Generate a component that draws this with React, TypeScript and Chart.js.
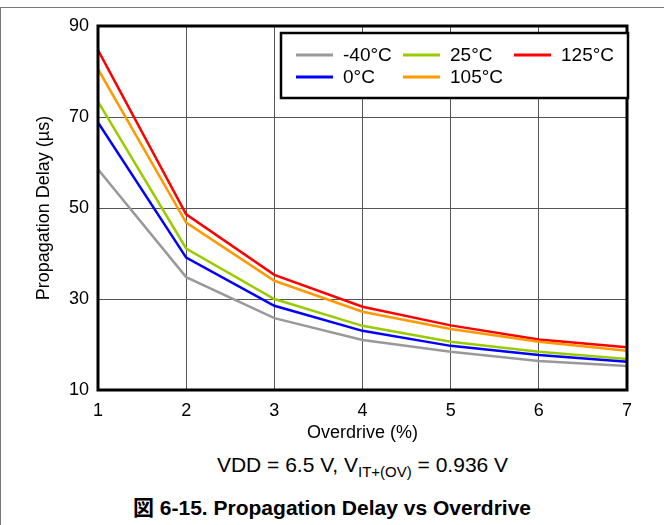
import React, { useEffect, useRef } from 'react';
import { Chart, registerables } from 'chart.js';

Chart.register(...registerables);

const overdrive = [1, 2, 3, 4, 5, 6, 7];
const seriesLabels = ['-40°C', '0°C', '25°C', '105°C', '125°C'];
const delayM40 = [58.5, 34.8, 25.8, 21.0, 18.4, 16.4, 15.3];
const delay0 = [68.8, 39.1, 28.5, 23.0, 19.7, 17.7, 16.2];
const delay25 = [73.4, 41.1, 30.0, 24.1, 20.6, 18.4, 16.8];
const delay105 = [80.5, 46.8, 34.0, 27.2, 23.4, 20.6, 18.6];
const delay125 = [84.7, 48.6, 35.3, 28.3, 24.2, 21.1, 19.4];
const seriesColors = ['#999999', '#0000ff', '#99cc00', '#ff9900', '#ff0000'];
const yTicks = [10, 30, 50, 70, 90];
const xTicks = [1, 2, 3, 4, 5, 6, 7];

const FONT = "'Liberation Sans', Arial, Helvetica, sans-serif";

const frameLegendPlugin = {
  id: 'frameLegend',
  afterDatasetsDraw(chart: any) {
    const ctx = chart.ctx as CanvasRenderingContext2D;
    const { left, right, top, bottom } = chart.chartArea;
    ctx.save();
    ctx.strokeStyle = '#000';
    ctx.lineWidth = 3;
    ctx.strokeRect(left, top, right - left, bottom - top);

    // legend box
    const bw = 347;
    const bh = 65;
    const bx = right + 1 - bw;
    const by = top + 7;
    ctx.fillStyle = '#fff';
    ctx.fillRect(bx, by, bw, bh);
    ctx.lineWidth = 2.5;
    ctx.strokeRect(bx, by, bw, bh);

    const colX = [15, 122, 233];
    const rowY = [22, 44];
    ctx.font = `19px ${FONT}`;
    ctx.textBaseline = 'middle';
    ctx.textAlign = 'left';
    chart.data.datasets.forEach((ds: any, i: number) => {
      const col = Math.floor(i / 2);
      const row = i % 2;
      const x = bx + colX[col];
      const y = by + rowY[row];
      ctx.strokeStyle = ds.borderColor;
      ctx.lineWidth = 3;
      ctx.beginPath();
      ctx.moveTo(x, y);
      ctx.lineTo(x + 37, y);
      ctx.stroke();
      ctx.fillStyle = '#000';
      ctx.fillText(ds.label, x + 47, y + 1);
    });
    ctx.restore();
  },
};

export default function App() {
  const canvasRef = useRef<HTMLCanvasElement | null>(null);

  useEffect(() => {
    if (!canvasRef.current) return;
    const allSeries = [delayM40, delay0, delay25, delay105, delay125];
    const chart = new Chart(canvasRef.current, {
      type: 'line',
      data: {
        datasets: allSeries.map((vals, i) => ({
          label: seriesLabels[i],
          data: vals.map((v, j) => ({ x: overdrive[j], y: v })),
          borderColor: seriesColors[i],
          backgroundColor: seriesColors[i],
          borderWidth: 2.5,
          pointRadius: 0,
          tension: 0,
          fill: false,
        })),
      },
      options: {
        responsive: false,
        animation: false,
        events: [],
        layout: { padding: { left: 0, right: 37, top: 26, bottom: 0 } },
        plugins: {
          legend: { display: false },
          tooltip: { enabled: false },
          title: { display: false },
        },
        scales: {
          x: {
            type: 'linear',
            min: 1,
            max: 7,
            afterBuildTicks: (scale: any) => {
              scale.ticks = xTicks.map((v) => ({ value: v }));
            },
            afterFit: (scale: any) => {
              scale.height = 60;
            },
            grid: { color: '#555', lineWidth: 1, drawTicks: false },
            border: { display: false },
            ticks: {
              padding: 10,
              color: '#000',
              font: { size: 18, family: FONT },
              callback: (v: any) => String(v),
            },
            title: {
              display: true,
              text: 'Overdrive (%)',
              color: '#000',
              font: { size: 18, family: FONT },
              padding: { top: 0, bottom: 6 },
            },
          },
          y: {
            type: 'linear',
            min: 10,
            max: 90,
            afterBuildTicks: (scale: any) => {
              scale.ticks = yTicks.map((v) => ({ value: v }));
            },
            afterFit: (scale: any) => {
              scale.width = 98;
            },
            grid: { color: '#555', lineWidth: 1, drawTicks: false },
            border: { display: false },
            ticks: {
              padding: 9,
              color: '#000',
              font: { size: 18, family: FONT },
              callback: (v: any) => String(v),
            },
            title: {
              display: true,
              text: 'Propagation Delay (µs)',
              color: '#000',
              font: { size: 18, family: FONT },
              padding: { top: 33, bottom: 0 },
            },
          },
        },
      },
      plugins: [frameLegendPlugin],
    } as any);
    return () => chart.destroy();
  }, []);

  return (
    <div
      style={{
        position: 'absolute',
        left: 0,
        top: 0,
        width: 664,
        height: 525,
        background: '#fff',
        overflow: 'hidden',
        fontFamily: FONT,
      }}
    >
      <div
        style={{
          position: 'absolute',
          left: 0,
          top: 7,
          width: 664,
          height: 530,
          borderTop: '1px solid #777',
          borderLeft: '1px solid #777',
          boxSizing: 'border-box',
        }}
      />
      <canvas
        ref={canvasRef}
        width={664}
        height={450}
        style={{ position: 'absolute', left: 0, top: 0, width: 664, height: 450 }}
      />
      <div
        style={{
          position: 'absolute',
          left: 98,
          width: 529,
          top: 453,
          textAlign: 'center',
          fontSize: 21,
          lineHeight: '24px',
          color: '#000',
          whiteSpace: 'nowrap',
        }}
      >
        VDD = 6.5 V, V
        <span style={{ fontSize: 15, verticalAlign: -5, lineHeight: '10px' }}>IT+(OV)</span> = 0.936 V
      </div>
      <div
        style={{
          position: 'absolute',
          left: 0,
          width: 664,
          top: 496,
          textAlign: 'center',
          fontSize: 21,
          fontWeight: 'bold',
          lineHeight: '24px',
          color: '#000',
          whiteSpace: 'nowrap',
          fontFamily: "'Liberation Sans', Arial, 'Noto Sans CJK JP', sans-serif",
        }}
      >
        図 6-15. Propagation Delay vs Overdrive
      </div>
    </div>
  );
}
